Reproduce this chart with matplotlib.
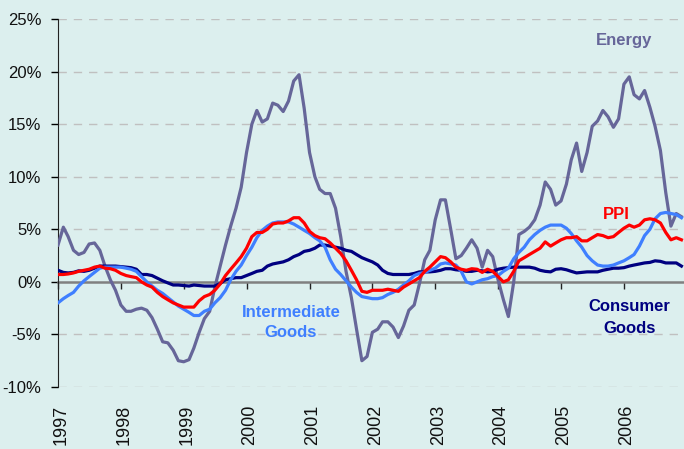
import matplotlib.pyplot as plt
import matplotlib.dates as mdates
from matplotlib.transforms import ScaledTranslation
import numpy as np
import pandas as pd

# monthly y/y % change, Jan 1997 .. Dec 2006
dates = pd.date_range('1997-01-01', periods=120, freq='MS')

energy = [3.5, 5.2, 4.3, 3.0, 2.6, 2.8, 3.6, 3.7, 3.0, 1.5, 0.2, -0.8,
          -2.2, -2.8, -2.8, -2.6, -2.5, -2.7, -3.4, -4.5, -5.7, -5.8, -6.5, -7.5,
          -7.6, -7.4, -6.3, -4.8, -3.5, -2.8, -0.5, 1.5, 3.5, 5.3, 7.0, 9.0,
          12.3, 15.0, 16.3, 15.2, 15.5, 17.0, 16.8, 16.2, 17.2, 19.1, 19.7, 16.5,
          12.3, 10.0, 8.8, 8.4, 8.4, 7.0, 4.3, 1.0, -1.5, -4.5, -7.5, -7.1,
          -4.8, -4.5, -3.8, -3.8, -4.3, -5.3, -4.2, -2.7, -2.2, -0.2, 2.1, 3.0,
          5.9, 7.8, 7.8, 5.0, 2.2, 2.5, 3.2, 4.0, 3.2, 1.4, 3.0, 2.4,
          0.2, -1.7, -3.3, 0.0, 4.5, 4.8, 5.2, 5.9, 7.3, 9.5, 8.8, 7.3,
          7.7, 9.3, 11.6, 13.2, 10.5, 12.3, 14.8, 15.3, 16.3, 15.7, 14.7, 15.5,
          18.8, 19.5, 17.8, 17.4, 18.2, 16.6, 14.8, 12.5, 8.5, 5.3, 6.5, 6.2]

ppi = [0.7, 0.7, 0.75, 0.85, 1.0, 1.1, 1.2, 1.4, 1.5, 1.3, 1.25, 1.1,
       0.8, 0.6, 0.5, 0.4, 0.0, -0.3, -0.5, -1.0, -1.4, -1.7, -2.0, -2.2,
       -2.4, -2.4, -2.4, -1.8, -1.4, -1.2, -0.8, -0.2, 0.6, 1.2, 1.8, 2.4,
       3.2, 4.3, 4.7, 4.7, 5.0, 5.5, 5.6, 5.6, 5.8, 6.1, 6.1, 5.6,
       4.8, 4.4, 4.2, 4.1, 3.7, 3.2, 2.7, 2.0, 1.1, 0.2, -0.9, -1.0,
       -0.8, -0.8, -0.8, -0.7, -0.8, -0.9, -0.5, -0.2, 0.1, 0.4, 1.0, 1.4,
       1.9, 2.4, 2.3, 1.9, 1.4, 1.2, 1.1, 1.25, 1.2, 0.9, 1.2, 1.0,
       0.5, 0.0, 0.2, 1.0, 2.0, 2.3, 2.6, 2.9, 3.2, 3.8, 3.4, 3.7,
       4.0, 4.2, 4.2, 4.3, 3.9, 3.9, 4.2, 4.5, 4.4, 4.2, 4.3, 4.7,
       5.1, 5.4, 5.2, 5.4, 5.9, 6.0, 5.9, 5.6, 4.7, 4.0, 4.2, 4.0]

intermediate = [-2.0, -1.6, -1.3, -1.0, -0.4, 0.1, 0.5, 0.9, 1.3, 1.4, 1.4, 1.4,
                1.4, 1.3, 1.2, 1.0, 0.5, 0.0, -0.4, -0.8, -1.1, -1.5, -1.9, -2.3,
                -2.6, -2.9, -3.2, -3.2, -2.8, -2.6, -2.0, -1.5, -0.8, 0.2, 1.0, 1.6,
                2.5, 3.3, 4.2, 4.9, 5.3, 5.6, 5.7, 5.7, 5.7, 5.5, 5.2, 4.9,
                4.6, 4.2, 3.9, 3.3, 2.1, 1.2, 0.7, 0.1, -0.5, -1.0, -1.4, -1.5,
                -1.6, -1.6, -1.5, -1.2, -1.0, -0.7, -0.3, 0.1, 0.6, 0.8, 0.9, 1.1,
                1.3, 1.7, 1.8, 1.7, 1.6, 1.0, 0.0, -0.2, 0.0, 0.2, 0.3, 0.5,
                0.6, 1.0, 1.3, 2.2, 2.8, 3.3, 4.0, 4.5, 4.9, 5.2, 5.4, 5.4,
                5.4, 5.1, 4.6, 3.9, 3.3, 2.5, 2.0, 1.6, 1.5, 1.5, 1.6, 1.8,
                2.0, 2.3, 2.6, 3.4, 4.4, 5.0, 6.0, 6.5, 6.6, 6.5, 6.4, 6.1]

consumer = [1.1, 0.9, 0.85, 0.9, 1.05, 1.0, 1.1, 1.3, 1.5, 1.5, 1.5, 1.5,
            1.45, 1.4, 1.35, 1.2, 0.7, 0.7, 0.6, 0.35, 0.1, -0.1, -0.3, -0.3,
            -0.35, -0.4, -0.3, -0.35, -0.4, -0.4, -0.4, -0.15, 0.2, 0.3, 0.4, 0.4,
            0.6, 0.8, 1.0, 1.1, 1.5, 1.7, 1.8, 1.9, 2.1, 2.4, 2.6, 2.9,
            3.0, 3.2, 3.5, 3.5, 3.4, 3.3, 3.2, 3.0, 2.9, 2.6, 2.3, 2.1,
            1.9, 1.6, 1.1, 0.8, 0.7, 0.7, 0.7, 0.7, 0.8, 0.95, 0.95, 0.95,
            1.0, 1.1, 1.25, 1.25, 1.15, 1.1, 1.0, 1.0, 1.1, 1.05, 0.95, 1.0,
            1.2, 1.3, 1.35, 1.4, 1.4, 1.4, 1.4, 1.3, 1.1, 1.0, 0.95, 1.2,
            1.25, 1.15, 1.0, 0.85, 0.9, 0.95, 0.95, 0.95, 1.1, 1.2, 1.3, 1.3,
            1.35, 1.5, 1.6, 1.7, 1.8, 1.85, 2.0, 1.95, 1.8, 1.8, 1.8, 1.5]

yticks = [-10, -5, 0, 5, 10, 15, 20, 25]
ylabels = ['-10%', '-5%', '0%', '5%', '10%', '15%', '20%', '25%']

bg = '#dcefee'
plt.rcParams['font.family'] = ['Liberation Sans', 'DejaVu Sans']

fig = plt.figure(figsize=(6.84, 4.49), dpi=100, facecolor=bg)
ax = fig.add_axes([58 / 684, 1 - 387 / 449, 1 - 58 / 684, (387 - 19) / 449])
ax.set_facecolor(bg)

ax.plot(dates, energy, color='#666699', lw=2.3, zorder=3)
ax.plot(dates, consumer, color='#000080', lw=2.3, zorder=4)
ax.plot(dates, intermediate, color='#3f7fff', lw=2.3, zorder=5)
ax.plot(dates, ppi, color='#ff0000', lw=2.3, zorder=6)

ax.set_ylim(-10, 25)
ax.set_xlim(pd.Timestamp('1997-01-01'), pd.Timestamp('2006-12-16'))
ax.set_yticks(yticks)
ax.set_yticklabels(ylabels, fontsize=12, color='#111111')
ax.tick_params(axis='y', direction='out', length=5, width=1, pad=7)
for v in yticks:
    if v != 0:
        ax.axhline(v, color='#c0c0c0', lw=1, dashes=(6, 5), zorder=1)

for s in ['top', 'right']:
    ax.spines[s].set_visible(False)
ax.spines['left'].set_color('#222222')
ax.spines['bottom'].set_position(('data', 0))
ax.spines['bottom'].set_color('#808080')
ax.spines['bottom'].set_linewidth(1.8)
ax.spines['bottom'].set_zorder(2)
ax.xaxis.set_major_locator(mdates.YearLocator())
ax.tick_params(axis='x', direction='out', length=5, width=1, color='#222222',
               labelbottom=False)

sec = ax.secondary_xaxis(0.0)
sec.xaxis.set_major_locator(mdates.YearLocator())
sec.xaxis.set_major_formatter(mdates.DateFormatter('%Y'))
sec.spines['bottom'].set_visible(False)
sec.tick_params(axis='x', length=0, pad=13, labelsize=13, labelcolor='#111111')
for lab in sec.get_xticklabels():
    lab.set_rotation(90)
    lab.set_va('top')
    lab.set_ha('center')
    lab.set_transform(lab.get_transform() + ScaledTranslation(3 / 100, 0, fig.dpi_scale_trans))

lbl = dict(fontsize=12, fontweight='bold', ha='center', va='center')
ax.text(pd.Timestamp('2006-01-01'), 23, 'Energy', color='#666699', **lbl)
ax.text(pd.Timestamp('2005-11-15'), 6.4, 'PPI', color='#ff0000', **lbl)
ax.text(pd.Timestamp('2000-09-15'), -3.85, 'Intermediate\nGoods', color='#3f7fff',
        linespacing=1.4, **lbl)
ax.text(pd.Timestamp('2006-02-01'), -3.4, 'Consumer\nGoods', color='#000080',
        linespacing=1.55, **lbl)

fig.savefig('out.png', dpi=100, facecolor=bg)
